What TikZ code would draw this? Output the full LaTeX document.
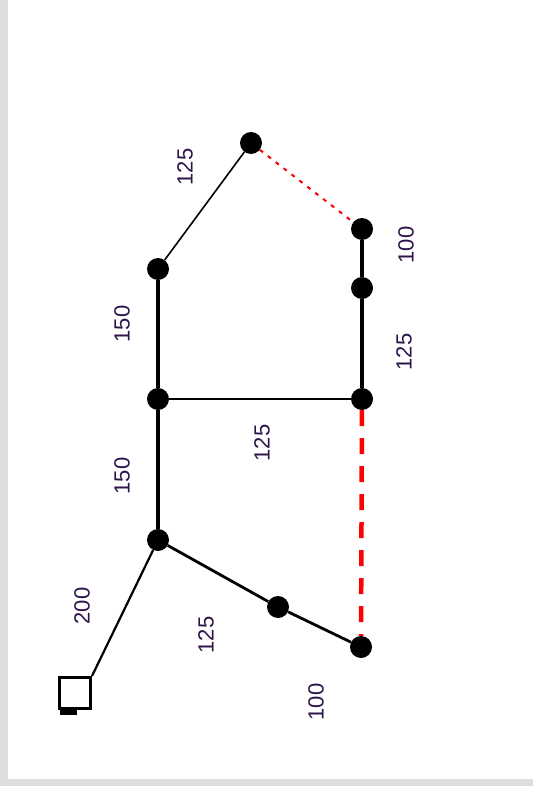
\documentclass[tikz,border=0pt]{standalone}
\usepackage{fontspec}
\setmainfont{Liberation Sans}
\begin{document}
\begin{tikzpicture}[x=1pt,y=-1pt,
  junction/.style={circle,fill=black,inner sep=0pt,minimum size=22pt},
  source/.style={draw=black,line width=3pt,fill=white,inner sep=0pt,minimum size=31pt},
  pipe/.style={line width=4pt,black},
  thinpipe/.style={line width=1.6pt,black},
  midpipe/.style={line width=2.8pt,black},
  redpipe/.style={line width=4.5pt,red,dash pattern=on 16pt off 12pt},
  reddots/.style={line width=2pt,red,dash pattern=on 4pt off 6pt},
  len/.style={rotate=90,text={rgb,255:red,45;green,20;blue,75},font=\fontsize{22}{22}\selectfont,inner sep=0pt}]
  % frame
  \fill[white] (0,0) rectangle (533,786);
  \fill[gray!27] (0,0) rectangle (8,786);
  \fill[gray!27] (0,779) rectangle (533,786);
  \useasboundingbox (0,0) rectangle (533,786);

  % junctions
  \node[junction] (A) at (251,143) {};
  \node[junction] (B) at (362,229) {};
  \node[junction] (B2) at (362,288) {};
  \node[junction] (C) at (362,399) {};
  \node[junction] (D) at (158,399) {};
  \node[junction] (E) at (158,269) {};
  \node[junction] (F) at (158,540) {};
  \node[junction] (G) at (278,607) {};
  \node[junction] (H) at (361,647) {};
  \node[source] (S) at (75,693) {};
  \fill[black] (60,709) rectangle (77,715);

  % pipes
  \draw[thinpipe] (A) -- (E);
  \draw[reddots] (A) -- (B);
  \draw[pipe] (B) -- (B2);
  \draw[pipe] (B2) -- (C);
  \draw[line width=2.2pt] (C) -- (D);
  \draw[redpipe] (C) -- (H);
  \draw[pipe] (D) -- (E);
  \draw[pipe] (D) -- (F);
  \draw[line width=2.2pt] (F) -- (S.north east);
  \draw[midpipe] (F) -- (G);
  \draw[midpipe] (G) -- (H);

  % pipe lengths
  \node[len] (l1) at (185,167) {125};
  \node[len] (l2) at (406,245) {100};
  \node[len] (l3) at (122,324) {150};
  \node[len] (l4) at (404,352) {125};
  \node[len] (l5) at (262,443) {125};
  \node[len] (l6) at (122,476) {150};
  \node[len] (l7) at (82,606) {200};
  \node[len] (l8) at (206,635) {125};
  \node[len] (l9) at (316,702) {100};
\end{tikzpicture}
\end{document}
